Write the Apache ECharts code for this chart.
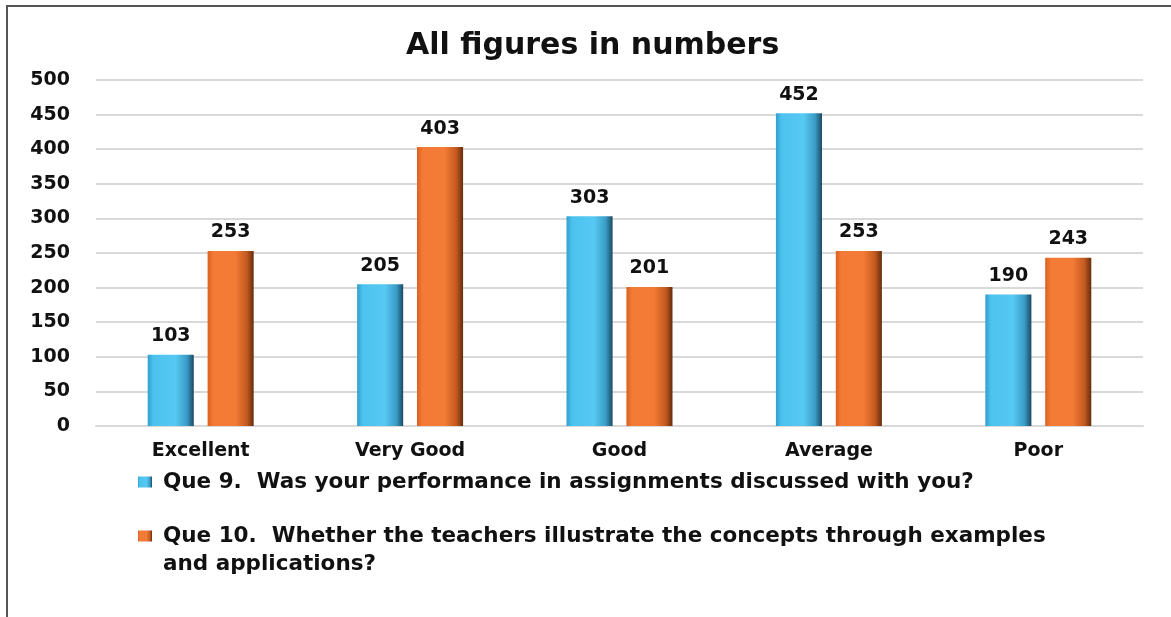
<!DOCTYPE html>
<html>
<head>
<meta charset="utf-8">
<script src="https://cdn.jsdelivr.net/npm/echarts@6/dist/echarts.min.js"></script>
<style>
html,body{margin:0;padding:0;background:#fff;}
#chart{width:1171px;height:617px;}
</style>
</head>
<body>
<div id="chart"></div>
<script>
const categories = ['Excellent', 'Very Good', 'Good', 'Average', 'Poor'];
const seriesNames = [
  'Que 9.  Was your performance in assignments discussed with you?',
  'Que 10.  Whether the teachers illustrate the concepts through examples and applications?'
];
const que9 = [103, 205, 303, 452, 190];
const que10 = [253, 403, 201, 253, 243];
const titleText = 'All figures in numbers';
const legendWrapAt = ' and applications?';

const FONT = '"DejaVu Sans", "Liberation Sans", Arial, sans-serif';
const chart = echarts.init(document.getElementById('chart'));

function grad(stops) {
  return new echarts.graphic.LinearGradient(0, 0, 1, 0, stops.map((c) => ({offset: c[0], color: c[1]})));
}
const blue = grad([[0, '#2f9fcf'], [0.12, '#4cc2ee'], [0.6, '#56c9f3'], [0.85, '#3a9cc6'], [1, '#1b4a62']]);
const orange = grad([[0, '#d9601f'], [0.12, '#f47b36'], [0.6, '#f37b35'], [0.85, '#c45a20'], [1, '#652c0c']]);

const labelStyle = {show: true, position: 'top', distance: 9, color: '#111', fontWeight: 'bold', fontSize: 19, fontFamily: FONT};
const legendFont = {fontSize: 21.5, fontWeight: 'bold', fill: '#111', fontFamily: FONT};

chart.setOption({
  animation: false,
  backgroundColor: '#fff',
  graphic: [{
    type: 'rect', silent: true,
    shape: {x: 7, y: 6, width: 1300, height: 800},
    style: {fill: 'none', stroke: '#555', lineWidth: 2}
  }, {
    type: 'text', silent: true, left: 163, top: 553,
    style: Object.assign({text: legendWrapAt.trim()}, legendFont)
  }],
  title: {
    text: titleText, left: 401, top: 26,
    textStyle: {fontSize: 30, fontWeight: 'bold', color: '#111', fontFamily: FONT}
  },
  grid: {left: 96, right: 28, top: 80, bottom: 191, containLabel: false},
  legend: {
    orient: 'vertical', left: 133, top: 463,
    itemWidth: 14, itemHeight: 11, itemGap: 26, icon: 'rect',
    formatter: (name) => name.replace(legendWrapAt, ''),
    textStyle: {fontSize: 21.5, fontWeight: 'bold', color: '#111', fontFamily: FONT, lineHeight: 28, padding: [0, 0, 0, 6]}
  },
  xAxis: {
    type: 'category', data: categories,
    axisLine: {lineStyle: {color: '#d9d9d9', width: 2}},
    axisTick: {show: false},
    axisLabel: {color: '#111', fontWeight: 'bold', fontSize: 19, fontFamily: FONT, margin: 16}
  },
  yAxis: {
    type: 'value', min: 0, max: 500, interval: 50,
    axisLine: {show: false}, axisTick: {show: false},
    splitLine: {lineStyle: {color: '#d9d9d9', width: 2}},
    axisLabel: {color: '#111', fontWeight: 'bold', fontSize: 19, fontFamily: FONT, margin: 26}
  },
  series: [
    {name: seriesNames[0], type: 'bar', data: que9, barWidth: '22%', barGap: '30%',
     itemStyle: {color: blue}, label: labelStyle},
    {name: seriesNames[1], type: 'bar', data: que10, barWidth: '22%', barGap: '30%',
     itemStyle: {color: orange}, label: labelStyle}
  ]
});
</script>
</body>
</html>
